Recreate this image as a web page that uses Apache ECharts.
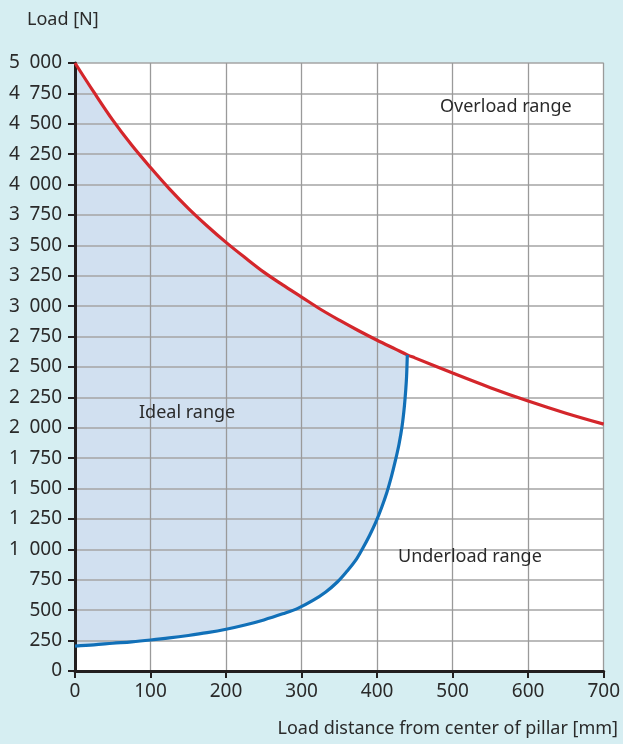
<!DOCTYPE html>
<html>
<head>
<meta charset="utf-8">
<script src="https://cdn.jsdelivr.net/npm/echarts@6/dist/echarts.min.js"></script>
<style>
html,body{margin:0;padding:0;background:#d6eef2;}
#chart{width:623px;height:744px;}
</style>
</head>
<body>
<div id="chart"></div>
<script>
// Upper limit curve (red): load distance [mm] -> max load [N]
const redX = [0,25,50,75,100,125,150,175,200,225,250,275,300,325,350,375,400,425,440,450,500,550,600,650,700];
const redY = [5000,4760,4530,4325,4140,3965,3805,3660,3525,3400,3280,3175,3075,2975,2885,2800,2720,2645,2600,2575,2450,2330,2220,2120,2030];
// Lower limit curve (blue)
const blueX = [0,25,50,75,100,125,150,175,200,225,250,275,295,315,332,347,360,371,381,390,398,406,413,419,424,429,433,436,438,439,440];
const blueY = [205,215,228,240,255,272,292,315,343,378,420,470,515,580,650,730,820,905,1010,1115,1220,1345,1470,1600,1725,1865,2010,2170,2320,2420,2600];
// Axis ticks
const xTicks = [0,100,200,300,400,500,600,700];
const yMax = 5000, yStep = 250;
const xName = 'Load distance from center of pillar [mm]';
const yName = 'Load [N]';
const regionLabels = ['Overload range','Ideal range','Underload range'];

const FONT = "'Noto Sans', 'DejaVu Sans', sans-serif";
const TXT = '#2a2a2a';

const redData = redX.map((x,i)=>[x,redY[i]]);
const blueData = blueX.map((x,i)=>[x,blueY[i]]);
const redEnd = blueX[blueX.length-1];
// polygon: along red from 0 to meeting point, then back along blue
const poly = redData.filter(p=>p[0]<=redEnd).concat(blueData.slice().reverse());

function fmt(v){ return String(v).replace(/\B(?=(\d{3})+(?!\d))/g,'\u2002'); }

const chart = echarts.init(document.getElementById('chart'), null, {renderer:'canvas'});
chart.setOption({
  backgroundColor:'#d6eef2',
  animation:false,
  textStyle:{fontFamily:FONT},
  grid:{left:75,right:19,top:63,bottom:73,containLabel:false},
  xAxis:{
    type:'value', min:xTicks[0], max:xTicks[xTicks.length-1], interval:100,
    axisLine:{show:true,onZero:false,lineStyle:{color:'#231f20',width:3}},
    axisTick:{show:true,inside:false,length:7,lineStyle:{color:'#231f20',width:2}},
    axisLabel:{color:TXT,fontSize:19,margin:11,fontFamily:FONT},
    splitLine:{show:true,lineStyle:{color:'#9a9a9a',width:1.3}}
  },
  yAxis:{
    type:'value', min:0, max:yMax, interval:yStep,
    axisLine:{show:true,onZero:false,lineStyle:{color:'#231f20',width:3}},
    axisTick:{show:true,inside:false,length:7,lineStyle:{color:'#231f20',width:2}},
    axisLabel:{color:TXT,fontSize:19,margin:13,fontFamily:FONT,formatter:fmt},
    splitLine:{show:true,lineStyle:{color:'#a4a4a4',width:1.5}}
  },
  graphic:[
    {type:'text',left:27,top:11,style:{text:yName,fill:TXT,font:'18px '+FONT}},
    {type:'text',right:5,top:720,style:{text:xName,fill:TXT,font:'18px '+FONT}},
    {type:'text',left:440,top:98,z:10,style:{text:regionLabels[0],fill:TXT,font:'18px '+FONT}},
    {type:'text',left:139,top:404,z:10,style:{text:regionLabels[1],fill:TXT,font:'18px '+FONT}},
    {type:'text',left:398,top:548,z:10,style:{text:regionLabels[2],fill:TXT,font:'18px '+FONT}}
  ],
  series:[
    {
      type:'custom', z:-1, silent:true, clip:false,
      data: poly,
      renderItem:function(params, api){
        if(params.dataIndex!==0) return null;
        const cs = params.coordSys;
        const pts = poly.map(p=>api.coord(p));
        return {type:'group',children:[
          {type:'rect',shape:{x:cs.x,y:cs.y,width:cs.width,height:cs.height},style:{fill:'#ffffff'}},
          {type:'polygon',shape:{points:pts},style:{fill:'#d1e0f0'}}
        ]};
      }
    },
    {type:'line',data:redData,smooth:0.35,symbol:'none',z:4,silent:true,lineStyle:{color:'#d4262b',width:3.2}},
    {type:'line',data:blueData,smooth:0.35,symbol:'none',z:4,silent:true,lineStyle:{color:'#1170b8',width:3.2}}
  ]
});
</script>
</body>
</html>
